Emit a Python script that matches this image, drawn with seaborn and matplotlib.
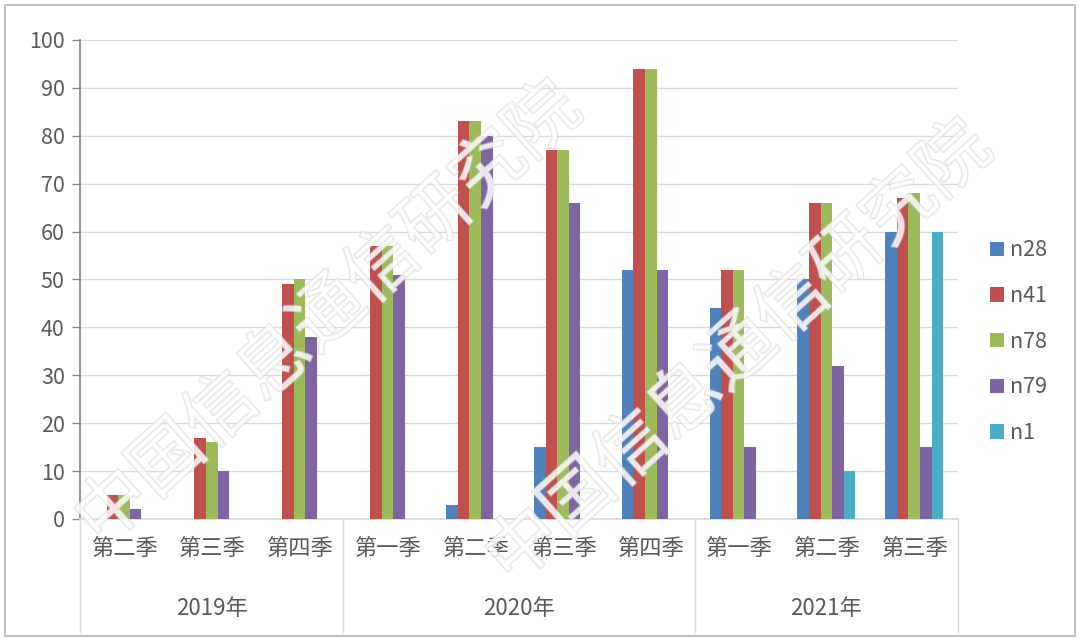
import matplotlib
matplotlib.use("Agg")
import matplotlib.pyplot as plt
import matplotlib.patheffects as pe
from matplotlib.patches import Rectangle
import pandas as pd
import seaborn as sns

# ── data ──────────────────────────────────────────
YEARS = ["2019年", "2020年", "2021年"]
QUARTERS = [
    ["第二季", "第三季", "第四季"],
    ["第一季", "第二季", "第三季", "第四季"],
    ["第一季", "第二季", "第三季"],
]
SERIES = ["n28", "n41", "n78", "n79", "n1"]

n28 = [0, 0, 0, 0, 3, 15, 52, 44, 50, 60]
n41 = [5, 17, 49, 57, 83, 77, 94, 52, 66, 67]
n78 = [5, 16, 50, 57, 83, 77, 94, 52, 66, 68]
n79 = [2, 10, 38, 51, 80, 66, 52, 15, 32, 15]
n1 = [0, 0, 0, 0, 0, 0, 0, 0, 10, 60]

WARNA = ["#4F81BD", "#C0504D", "#9BBB59", "#8064A2", "#4BACC6"]
TEKS = "#595959"

sns.set_theme(style="white")
plt.rcParams["font.family"] = ["Noto Sans CJK SC", "DejaVu Sans"]

# long-form table
kategori = [f"{y}{q}" for y, qs in zip(YEARS, QUARTERS) for q in qs]
label_q = [q for qs in QUARTERS for q in qs]
rows = []
for nama, nilai in zip(SERIES, [n28, n41, n78, n79, n1]):
    for k, v in zip(kategori, nilai):
        rows.append({"kategori": k, "seri": nama, "nilai": v})
df = pd.DataFrame(rows)

fig = plt.figure(figsize=(10.8, 6.43), dpi=100)
ax = fig.add_axes([0.0741, 0.1929, 0.8130, 0.7449])

sns.barplot(data=df, x="kategori", y="nilai", hue="seri", order=kategori,
            hue_order=SERIES, palette=WARNA, saturation=1, width=0.66,
            gap=0, errorbar=None, linewidth=0, ax=ax, zorder=3)

ax.set_xlim(-0.5, len(kategori) - 0.5)
ax.set_ylim(0, 100)
ax.set_yticks(range(0, 101, 10))
ax.set_xlabel("")
ax.set_ylabel("")
ax.set_xticks(range(len(kategori)))
ax.set_xticklabels(label_q, fontsize=16, color=TEKS)
ax.tick_params(axis="x", length=0, pad=13)
ax.tick_params(axis="y", length=6, width=1, color="#868686", labelsize=15.5,
               labelcolor=TEKS, pad=5, left=True, direction="out")
ax.grid(axis="y", color="#d9d9d9", linewidth=1, zorder=0)
ax.set_axisbelow(True)

for s in ["top", "right"]:
    ax.spines[s].set_visible(False)
ax.spines["left"].set_color("#868686")
ax.spines["bottom"].set_color("#d9d9d9")

# group separators and year labels
trans = ax.get_xaxis_transform()
batas = [-0.5]
for qs in QUARTERS:
    batas.append(batas[-1] + len(qs))
for b in batas:
    ax.plot([b, b], [0, -0.236], transform=trans, color="#d9d9d9",
            linewidth=1, clip_on=False)
for i, y in enumerate(YEARS):
    tengah = (batas[i] + batas[i + 1]) / 2
    ax.text(tengah, -0.186, y, transform=trans, ha="center", va="center",
            fontsize=16, color=TEKS)

leg = ax.legend(loc="center left", bbox_to_anchor=(1.024, 0.37), frameon=False,
                fontsize=15.5, handlelength=0.65, handleheight=0.65,
                handletextpad=0.3, labelspacing=1.1, borderpad=0)
for t in leg.get_texts():
    t.set_color(TEKS)

# watermark
for x0, y0 in [(0.305, 0.51), (0.685, 0.45)]:
    fig.text(x0, y0, "中国信息通信研究院", fontsize=52, rotation=42,
             ha="center", va="center", color="white", alpha=0.6, zorder=10,
             path_effects=[pe.withStroke(linewidth=1.5, foreground="#d6d6d6")])

# outer frame
fig.patches.append(Rectangle((0.005, 0.011), 0.990, 0.981, transform=fig.transFigure,
                             fill=False, edgecolor="#bfbfbf", linewidth=1.5))

fig.savefig("out.png", dpi=100)
